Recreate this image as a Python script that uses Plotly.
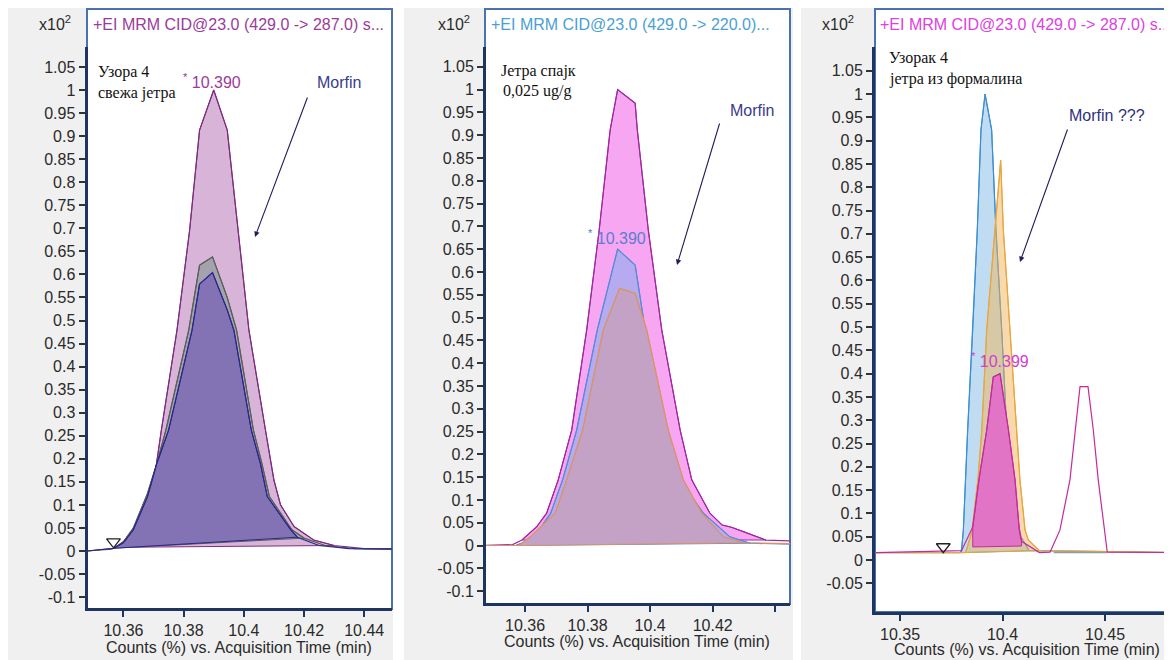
import plotly.graph_objects as go

# ---------------- data ----------------
y_tick_labels = ["-0.1", "-0.05", "0", "0.05", "0.1", "0.15", "0.2", "0.25", "0.3", "0.35",
                 "0.4", "0.45", "0.5", "0.55", "0.6", "0.65", "0.7", "0.75", "0.8", "0.85",
                 "0.9", "0.95", "1", "1.05"]
y_tick_labels_p3 = ["-0.05", "0", "0.05", "0.1", "0.15", "0.2", "0.25", "0.3", "0.35",
                    "0.4", "0.45", "0.5", "0.55", "0.6", "0.65", "0.7", "0.75", "0.8", "0.85",
                    "0.9", "0.95", "1", "1.05"]
x_tick_values_p1 = [10.36, 10.38, 10.40, 10.42, 10.44]
x_tick_labels_p1 = ["10.36", "10.38", "10.4", "10.42", "10.44"]
x_tick_values_p2 = [10.36, 10.38, 10.40, 10.42, 10.44]
x_tick_labels_p2 = ["10.36", "10.38", "10.4", "10.42", " "]
x_tick_values_p3 = [10.35, 10.40, 10.45]
x_tick_labels_p3 = ["10.35", "10.4", "10.45"]

# Panel 1 : Узора 4, свежа јетра
p1_purple_t = [10.348, 10.356, 10.358, 10.3606, 10.3639, 10.3678, 10.3702, 10.3726, 10.3778, 10.382,
               10.3853, 10.390, 10.3945, 10.398, 10.4017, 10.4072, 10.410, 10.4122, 10.4167, 10.4232,
               10.430, 10.440, 10.450]
p1_purple_y = [0.0, 0.004, 0.008, 0.024, 0.053, 0.100, 0.154, 0.262, 0.479, 0.696,
               0.913, 1.000, 0.913, 0.696, 0.479, 0.262, 0.154, 0.100, 0.053, 0.024,
               0.012, 0.005, 0.005]
p1_purple_int = [10.358, 10.430, 0.008, 0.012]

p1_gray_t = [10.348, 10.3567, 10.360, 10.3633, 10.368, 10.3711, 10.3741, 10.3817, 10.3853, 10.3896,
             10.3945, 10.3976, 10.4032, 10.406, 10.4085, 10.416, 10.420, 10.427, 10.437, 10.450]
p1_gray_y = [0.0, 0.006, 0.020, 0.050, 0.125, 0.190, 0.262, 0.479, 0.620, 0.638,
             0.550, 0.479, 0.262, 0.190, 0.118, 0.046, 0.028, 0.012, 0.005, 0.004]
p1_gray_int = [10.3567, 10.420, 0.006, 0.028]

p1_navy_t = [10.348, 10.3567, 10.360, 10.3633, 10.368, 10.3711, 10.375, 10.3828, 10.3853, 10.3896,
             10.3945, 10.3967, 10.4025, 10.4055, 10.4078, 10.4156, 10.4178, 10.425, 10.435, 10.450]
p1_navy_y = [0.0, 0.006, 0.018, 0.046, 0.118, 0.190, 0.262, 0.479, 0.579, 0.604,
             0.523, 0.479, 0.262, 0.190, 0.118, 0.046, 0.030, 0.012, 0.005, 0.004]
p1_navy_int = [10.3567, 10.4178, 0.006, 0.030]

p1_marker_t = [10.3567]
p1_marker_y = [0.020]

# Panel 2 : Јетра спајк 0,025 ug/g
p2_pink_t = [10.347, 10.356, 10.359, 10.3637, 10.3669, 10.3706, 10.3749, 10.3797, 10.3837, 10.3872,
             10.3896, 10.3952, 10.3959, 10.3994, 10.4037, 10.4096, 10.4133, 10.4191, 10.4230, 10.4260,
             10.4300, 10.434, 10.437, 10.445]
p2_pink_y = [0.0, 0.002, 0.012, 0.041, 0.071, 0.144, 0.253, 0.473, 0.692, 0.911,
             1.000, 0.970, 0.911, 0.692, 0.473, 0.253, 0.144, 0.071, 0.045, 0.040,
             0.030, 0.019, 0.012, 0.010]
p2_pink_int = [10.359, 10.437, 0.012, 0.012]

p2_blue_t = [10.347, 10.357, 10.360, 10.364, 10.3682, 10.372, 10.3765, 10.3831, 10.3896, 10.3952,
             10.3984, 10.4034, 10.4096, 10.417, 10.4255, 10.432, 10.445]
p2_blue_y = [0.0, 0.0, 0.008, 0.030, 0.071, 0.144, 0.253, 0.473, 0.650, 0.615,
             0.473, 0.253, 0.144, 0.071, 0.019, 0.005, 0.003]
p2_blue_int = [10.357, 10.432, 0.0, 0.005]

p2_orng_t = [10.347, 10.358, 10.3616, 10.3696, 10.3733, 10.3784, 10.385, 10.3902, 10.3952, 10.3989,
             10.4058, 10.4106, 10.4165, 10.4234, 10.430, 10.445]
p2_orng_y = [0.0, 0.0, 0.019, 0.071, 0.144, 0.253, 0.473, 0.564, 0.553, 0.473,
             0.253, 0.144, 0.071, 0.019, 0.006, 0.004]
p2_orng_int = [10.358, 10.430, 0.0, 0.006]

# Panel 3 : Узорак 4, јетра из формалина
p3_blue_t = [10.338, 10.3795, 10.3801, 10.3809, 10.383, 10.3855, 10.3877, 10.3895, 10.3915, 10.3947,
             10.3968, 10.3996, 10.4021, 10.406, 10.409, 10.413, 10.483]
p3_blue_y = [0.016, 0.016, 0.025, 0.064, 0.279, 0.494, 0.708, 0.923, 1.000, 0.923,
             0.708, 0.494, 0.279, 0.120, 0.050, 0.020, 0.016]
p3_blue_int = [10.3801, 10.413, 0.016, 0.020]

p3_orng_t = [10.338, 10.382, 10.385, 10.388, 10.3899, 10.3923, 10.3963, 10.3991, 10.4004, 10.4037,
             10.4069, 10.4085, 10.411, 10.4126, 10.418, 10.483]
p3_orng_y = [0.016, 0.016, 0.060, 0.172, 0.279, 0.494, 0.708, 0.858, 0.708, 0.494,
             0.279, 0.172, 0.064, 0.043, 0.020, 0.016]
p3_orng_int = [10.382, 10.418, 0.016, 0.020]

p3_mag_t = [10.338, 10.380, 10.3855, 10.3885, 10.3923, 10.3955, 10.3988, 10.4029, 10.4061, 10.4082,
            10.4093, 10.418, 10.4232, 10.428, 10.4329, 10.4354, 10.4378, 10.4417, 10.4443, 10.4467,
            10.450, 10.4511, 10.483]
p3_mag_y = [0.016, 0.020, 0.071, 0.172, 0.279, 0.393, 0.400, 0.279, 0.172, 0.064,
            0.040, 0.016, 0.017, 0.064, 0.172, 0.279, 0.372, 0.372, 0.279, 0.172,
            0.064, 0.017, 0.016]
p3_mag_int = [10.3855, 10.4093, 0.028, 0.030]

p3_gray_base_t = [10.425, 10.451]
p3_gray_base_y = [0.016, 0.016]

p3_marker_t = [10.3711]
p3_marker_y = [0.0285]

# ---------------- figure ----------------
# The page body keeps its default 8px margin, so the figure is drawn 8px in
# from the window's top-left corner; positions below are window pixels.
OFF = 8
W, H = 1172 - OFF, 660 - OFF


def PX(x):
    return (x - OFF) / W


def PY(y):
    return 1 - (y - OFF) / H


SANS = "Arial, Liberation Sans, sans-serif"
SERIF = "Times New Roman, Liberation Serif, serif"
AXC = "#1e3560"
FRAME = "#4a72b0"

fig = go.Figure()


def add_peak(t, y, integ, fill, line, xa, ya):
    t0, t1, b0, b1 = integ
    sel = [(ti, yi) for ti, yi in zip(t, y) if t0 <= ti <= t1]
    xs = [t0] + [s[0] for s in sel] + [t1, t0]
    ys = [b0] + [s[1] for s in sel] + [b1, b0]
    fig.add_trace(go.Scatter(x=xs, y=ys, fill="toself", fillcolor=fill, mode="lines",
                             line=dict(color=line, width=1), xaxis=xa, yaxis=ya,
                             hoverinfo="skip", showlegend=False))
    fig.add_trace(go.Scatter(x=t, y=y, mode="lines", line=dict(color=line, width=1.2),
                             xaxis=xa, yaxis=ya, hoverinfo="skip", showlegend=False))


# panel 1
add_peak(p1_purple_t, p1_purple_y, p1_purple_int, "#d9b4d9", "#7d2d7d", "x", "y")
add_peak(p1_gray_t, p1_gray_y, p1_gray_int, "#a4a2ad", "#5a5f5a", "x", "y")
add_peak(p1_navy_t, p1_navy_y, p1_navy_int, "#8373b5", "#28288c", "x", "y")
fig.add_trace(go.Scatter(x=p1_marker_t, y=p1_marker_y, mode="markers",
                         marker=dict(symbol="triangle-down-open", size=12, color="#222",
                                     line=dict(width=1.3, color="#222")),
                         xaxis="x", yaxis="y", hoverinfo="skip", showlegend=False))

# panel 2
add_peak(p2_pink_t, p2_pink_y, p2_pink_int, "#f7a6f2", "#a0289e", "x2", "y2")
add_peak(p2_blue_t, p2_blue_y, p2_blue_int, "#b6abf0", "#5b8ad6", "x2", "y2")
add_peak(p2_orng_t, p2_orng_y, p2_orng_int, "#c3a2c6", "#d99468", "x2", "y2")

# panel 3
add_peak(p3_blue_t, p3_blue_y, p3_blue_int, "#bfdcf3", "#3b8fd0", "x3", "y3")
add_peak(p3_orng_t, p3_orng_y, p3_orng_int, "rgba(240,180,90,0.5)", "#e8a640", "x3", "y3")
add_peak(p3_mag_t, p3_mag_y, p3_mag_int, "#e274c6", "#c42aa0", "x3", "y3")
fig.add_trace(go.Scatter(x=p3_gray_base_t, y=p3_gray_base_y, mode="lines",
                         line=dict(color="#999999", width=1.5), xaxis="x3", yaxis="y3",
                         hoverinfo="skip", showlegend=False))
fig.add_trace(go.Scatter(x=p3_marker_t, y=p3_marker_y, mode="markers",
                         marker=dict(symbol="triangle-down-open", size=12, color="#222",
                                     line=dict(width=1.3, color="#222")),
                         xaxis="x3", yaxis="y3", hoverinfo="skip", showlegend=False))

panels = [
    dict(xd=(87.5, 392), yd=(47, 608), xr=[10.34807, 10.44923], yr=[-0.1236, 1.0933],
         xt=(x_tick_values_p1, x_tick_labels_p1), yt=y_tick_labels),
    dict(xd=(486, 790), yd=(47, 603), xr=[10.34750, 10.44472], yr=[-0.1261, 1.0932],
         xt=(x_tick_values_p2, x_tick_labels_p2), yt=y_tick_labels),
    dict(xd=(875, 1172), yd=(47, 611.5), xr=[10.33780, 10.48268], yr=[-0.1105, 1.1009],
         xt=(x_tick_values_p3, x_tick_labels_p3), yt=y_tick_labels_p3),
]

layout_axes = {}
for i, p in enumerate(panels):
    sfx = "" if i == 0 else str(i + 1)
    layout_axes["xaxis" + sfx] = dict(
        domain=[PX(p["xd"][0]), min(1.0, PX(p["xd"][1]))], range=p["xr"], anchor="y" + sfx,
        tickmode="array", tickvals=p["xt"][0], ticktext=p["xt"][1],
        ticks="outside", ticklen=6, tickwidth=1.5, tickcolor=AXC,
        showline=True, linecolor=AXC, linewidth=3, showgrid=False, zeroline=False,
        tickfont=dict(family=SANS, size=16, color="#2a2a2a"), fixedrange=True)
    layout_axes["yaxis" + sfx] = dict(
        domain=[PY(p["yd"][1]), PY(p["yd"][0])], range=p["yr"], anchor="x" + sfx,
        tickmode="array", tickvals=[float(s) for s in p["yt"]], ticktext=p["yt"],
        ticks="outside", ticklen=6, tickwidth=1.5, tickcolor="#333",
        showline=True, linecolor=AXC, linewidth=3, showgrid=False, zeroline=False,
        tickfont=dict(family=SANS, size=16, color="#2a2a2a"), fixedrange=True)

shapes = []
# screenshot gray backgrounds
for x0, x1 in [(8, 393), (404, 793), (801, 1172)]:
    shapes.append(dict(type="rect", xref="paper", yref="paper", x0=PX(x0), x1=PX(x1),
                       y0=0, y1=1, fillcolor="#f0f0f0", line=dict(width=0),
                       layer="below"))
# white frames with blue border
for x0, x1, y1 in [(87, 392, 609), (485, 790, 604), (875, 1180, 612)]:
    shapes.append(dict(type="rect", xref="paper", yref="paper", x0=PX(x0), x1=PX(x1),
                       y0=PY(y1), y1=PY(9), fillcolor="white",
                       line=dict(width=2, color=FRAME), layer="below"))

ann = []


def text(px, py, s, size=16, color="#222", family=SANS, xanchor="left"):
    ann.append(dict(x=PX(px), y=PY(py), xref="paper", yref="paper", text=s, showarrow=False,
                    xanchor=xanchor, yanchor="middle",
                    font=dict(family=family, size=size, color=color)))


def arrow(hx, hy, tx, ty):
    ann.append(dict(x=PX(hx), y=PY(hy), xref="paper", yref="paper", text="", showarrow=True,
                    ax=tx - hx, ay=ty - hy, arrowhead=2, arrowsize=1, arrowwidth=1.1,
                    arrowcolor="#1e1e5a"))


# multiplier labels
for cx in [55, 454, 838]:
    text(cx, 23, "x10<sup>2</sup>", size=16, color="#2a2a2a", xanchor="center")

# chromatogram titles
text(91, 25, "+EI MRM CID@23.0 (429.0 -> 287.0) s...", color="#9b3b9b")
text(489, 25, "+EI MRM CID@23.0 (429.0 -> 220.0)...", color="#4aa0d5")
text(878, 25, "+EI MRM CID@23.0 (429.0 -> 287.0) s...", color="#e040e0")

# sample notes
text(96, 72, "Узора 4", family=SERIF, color="#111")
text(96, 93, "свежа јетра", family=SERIF, color="#111")
text(499, 71, "Јетра спајк", family=SERIF, color="#111")
text(501, 91, "0,025 ug/g", family=SERIF, color="#111")
text(887, 58, "Узорак 4", family=SERIF, color="#111")
text(887, 79, "јетра из формалина", family=SERIF, color="#111")

# peak labels
text(181, 81, "<sup>*</sup> 10.390", color="#9b3b9b")
text(586, 237, "<sup>*</sup> 10.390", color="#5a7fd0")
text(969, 360, "<sup>*</sup> 10.399", color="#d040d0")

# Morfin annotations
text(339, 82, "Morfin", color="#3a3a90", xanchor="center")
arrow(255, 237, 308, 96)
text(752, 111, "Morfin", color="#3a3a90", xanchor="center")
arrow(677, 265, 720, 122)
text(1107, 116, "Morfin ???", color="#303080", xanchor="center")
arrow(1020, 262, 1068, 128)

# axis titles
text(239, 647, "Counts (%) vs. Acquisition Time (min)", color="#2a2a2a", xanchor="center")
text(637, 641, "Counts (%) vs. Acquisition Time (min)", color="#2a2a2a", xanchor="center")
text(1027, 649, "Counts (%) vs. Acquisition Time (min)", color="#2a2a2a", xanchor="center")

fig.update_layout(
    width=W, height=H, margin=dict(l=0, r=0, t=0, b=0),
    paper_bgcolor="white", plot_bgcolor="rgba(0,0,0,0)",
    showlegend=False, shapes=shapes, annotations=ann, **layout_axes)

fig.write_html("out.html")
